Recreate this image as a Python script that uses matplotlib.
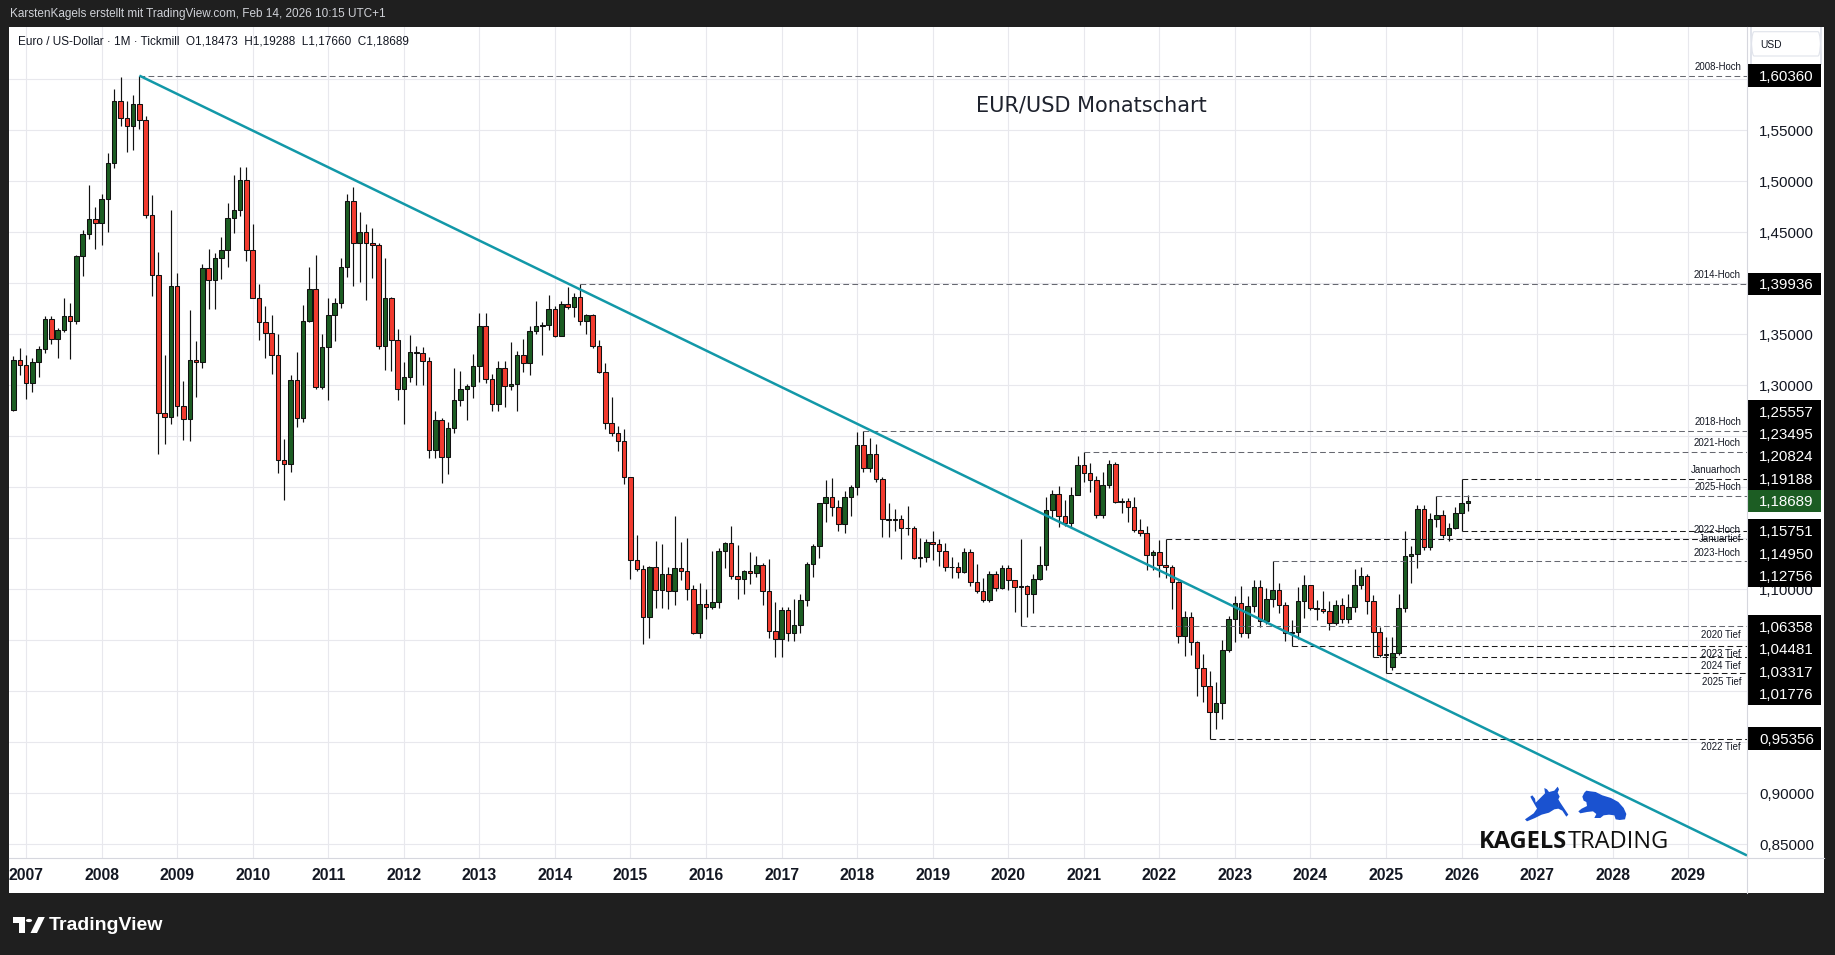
import numpy as np
import pandas as pd
import matplotlib
matplotlib.use("Agg")
import matplotlib.pyplot as plt
from matplotlib.patches import Rectangle, Polygon, Circle, FancyBboxPatch
from matplotlib.lines import Line2D
from matplotlib.transforms import blended_transform_factory

plt.rcParams['font.family'] = ['Liberation Sans', 'DejaVu Sans']

# ------------------------------------------------------------------ data
start_month = "2006-11"

open_ = [
    1.2757, 1.3251,
    1.3197, 1.3020, 1.3225, 1.3355, 1.3650, 1.3455, 1.3540, 1.3680, 1.3630, 1.4265, 1.4480, 1.4635,
    1.4590, 1.4830, 1.5183, 1.5790, 1.5617, 1.5545, 1.5760, 1.5600, 1.4670, 1.4085, 1.2730, 1.2690,
    1.3970, 1.2800, 1.2670, 1.3250, 1.3230, 1.4150, 1.4030, 1.4250, 1.4330, 1.4640, 1.4720, 1.5010,
    1.4330, 1.3860, 1.3625, 1.3510, 1.3300, 1.2270, 1.2230, 1.3050, 1.2680, 1.3630, 1.3940, 1.2980,
    1.3380, 1.3690, 1.3810, 1.4160, 1.4810, 1.4400, 1.4500, 1.4400, 1.4380, 1.3390, 1.3860, 1.3440,
    1.2960, 1.3080, 1.3330, 1.3320, 1.3240, 1.2370, 1.2660, 1.2300, 1.2580, 1.2860, 1.2960, 1.2990,
    1.3190, 1.3580, 1.3060, 1.2820, 1.3170, 1.2990, 1.3010, 1.3300, 1.3220, 1.3530, 1.3580, 1.3590,
    1.3750, 1.3485, 1.3800, 1.3770, 1.3870, 1.3630, 1.3690, 1.3390, 1.3130, 1.2630, 1.2530, 1.2450,
    1.2100, 1.1290, 1.1195, 1.0730, 1.1220, 1.0990, 1.1150, 1.0985, 1.1210, 1.1176, 1.1005, 1.0570,
    1.0860, 1.0830, 1.0873, 1.1380, 1.1453, 1.1131, 1.1105, 1.1175, 1.1157, 1.1240, 1.0980, 1.0590,
    1.0517, 1.0797, 1.0575, 1.0652, 1.0895, 1.1244, 1.1426, 1.1842, 1.1906, 1.1812, 1.1645, 1.1902,
    1.2005, 1.2415, 1.2193, 1.2324, 1.2079, 1.1693, 1.1683, 1.1690, 1.1600, 1.1604, 1.1311, 1.1315,
    1.1467, 1.1446, 1.1371, 1.1217, 1.1215, 1.1168, 1.1370, 1.1075, 1.0985, 1.0899, 1.1152, 1.1017,
    1.1213, 1.1092, 1.1026, 1.1031, 1.0955, 1.1101, 1.1234, 1.1778, 1.1937, 1.1720, 1.1647, 1.1928,
    1.2216, 1.2136, 1.2075, 1.1730, 1.2020, 1.2227, 1.1858, 1.1870, 1.1807, 1.1580, 1.1557, 1.1338,
    1.1370, 1.1235, 1.1218, 1.1067, 1.0545, 1.0733, 1.0481, 1.0225, 1.0054, 0.9801, 0.9883, 1.0405,
    1.0705, 1.0863, 1.0576, 1.0839, 1.1018, 1.0690, 1.0910, 1.0998, 1.0843, 1.0573, 1.0577, 1.0886,
    1.1039, 1.0818, 1.0805, 1.0790, 1.0666, 1.0848, 1.0713, 1.0825, 1.1047, 1.1135, 1.0883, 1.0577,
    1.0354, 1.0235, 1.0380, 1.0815, 1.1330, 1.1347, 1.1787, 1.1416, 1.1686, 1.1733, 1.1535, 1.1598,
    1.1745, 1.18473,
]
high = [
    1.3288, 1.3367,
    1.3298, 1.3270, 1.3385, 1.3682, 1.3680, 1.3560, 1.3852, 1.3805, 1.4281, 1.4527, 1.4967, 1.4750,
    1.4875, 1.5275, 1.5904, 1.6019, 1.5785, 1.5845, 1.6036, 1.5640, 1.4867, 1.4305, 1.3300, 1.4720,
    1.4100, 1.3040, 1.3740, 1.3430, 1.4190, 1.4340, 1.4300, 1.4450, 1.4790, 1.5060, 1.5140, 1.5145,
    1.4580, 1.3990, 1.3780, 1.3690, 1.3500, 1.2470, 1.3100, 1.3330, 1.3790, 1.4160, 1.4280, 1.3500,
    1.3860, 1.3860, 1.4250, 1.4880, 1.4940, 1.4700, 1.4580, 1.4540, 1.4400, 1.4250, 1.3870, 1.3550,
    1.3230, 1.3490, 1.3385, 1.3380, 1.3280, 1.2750, 1.2680, 1.2640, 1.3170, 1.3140, 1.3010, 1.3310,
    1.3710, 1.3710, 1.3110, 1.3240, 1.3240, 1.3420, 1.3340, 1.3450, 1.3580, 1.3830, 1.3620, 1.3890,
    1.3775, 1.3830, 1.3965, 1.3905, 1.39936, 1.3700, 1.3700, 1.3440, 1.3220, 1.2890, 1.2600, 1.2570,
    1.2105, 1.1535, 1.1240, 1.1230, 1.1470, 1.1440, 1.1220, 1.1715, 1.1460, 1.1500, 1.1040, 1.1060,
    1.1000, 1.1380, 1.1410, 1.1460, 1.1620, 1.1430, 1.1190, 1.1370, 1.1330, 1.1260, 1.1300, 1.0880,
    1.0830, 1.0830, 1.0910, 1.0950, 1.1270, 1.1440, 1.1847, 1.2070, 1.2090, 1.1880, 1.1960, 1.2020,
    1.2538, 1.25557, 1.2480, 1.2420, 1.2100, 1.1850, 1.1790, 1.1730, 1.1820, 1.1620, 1.1500, 1.1490,
    1.1570, 1.1490, 1.1450, 1.1320, 1.1270, 1.1410, 1.1400, 1.1250, 1.1110, 1.1180, 1.1180, 1.1240,
    1.1240, 1.1095, 1.1495, 1.1040, 1.1150, 1.1420, 1.1910, 1.1970, 1.2010, 1.1880, 1.2000, 1.2310,
    1.23495, 1.2240, 1.2110, 1.2150, 1.2270, 1.2250, 1.1900, 1.1900, 1.1910, 1.1690, 1.1620, 1.1390,
    1.1480, 1.1495, 1.1235, 1.1080, 1.0790, 1.0780, 1.0490, 1.0370, 1.0200, 1.0090, 1.0500, 1.0740,
    1.0930, 1.1030, 1.0930, 1.1095, 1.1090, 1.1010, 1.12756, 1.1065, 1.0880, 1.0700, 1.1020, 1.1140,
    1.1045, 1.0900, 1.0980, 1.0885, 1.0895, 1.0915, 1.0950, 1.1200, 1.1215, 1.1150, 1.0940, 1.0630,
    1.0530, 1.0530, 1.0955, 1.1573, 1.1420, 1.1830, 1.1830, 1.1745, 1.19188, 1.1780, 1.1655, 1.1808,
    1.20824, 1.19288,
]
low = [
    1.2750, 1.3097,
    1.2866, 1.2930, 1.3080, 1.3320, 1.3410, 1.3265, 1.3520, 1.3260, 1.3600, 1.4070, 1.4430, 1.4340,
    1.4380, 1.4500, 1.5130, 1.5540, 1.5285, 1.5305, 1.5510, 1.4640, 1.3880, 1.2330, 1.2420, 1.2620,
    1.2700, 1.2460, 1.2450, 1.2885, 1.3170, 1.3750, 1.3750, 1.4040, 1.4160, 1.4490, 1.4660, 1.4220,
    1.3855, 1.3440, 1.3270, 1.3110, 1.2140, 1.1876, 1.2150, 1.2590, 1.2640, 1.3620, 1.2965, 1.2960,
    1.2860, 1.3430, 1.3760, 1.4060, 1.3970, 1.4010, 1.3840, 1.4050, 1.3360, 1.3150, 1.3140, 1.2860,
    1.2620, 1.3030, 1.3000, 1.3000, 1.2290, 1.2290, 1.2040, 1.2130, 1.2530, 1.2800, 1.2660, 1.2880,
    1.3030, 1.3020, 1.2750, 1.2750, 1.2790, 1.2950, 1.2750, 1.3130, 1.3100, 1.3500, 1.3300, 1.3540,
    1.3470, 1.3480, 1.3750, 1.3670, 1.3590, 1.3500, 1.3370, 1.3125, 1.2570, 1.2500, 1.2360, 1.2030,
    1.1098, 1.1175, 1.0460, 1.0520, 1.0820, 1.0820, 1.0810, 1.0850, 1.1090, 1.0900, 1.0560, 1.0520,
    1.0710, 1.0810, 1.0820, 1.1210, 1.1100, 1.0910, 1.0950, 1.1050, 1.1120, 1.0850, 1.0520, 1.0340,
    1.0340, 1.0490, 1.0490, 1.0570, 1.0840, 1.1120, 1.1310, 1.1660, 1.1720, 1.1570, 1.1550, 1.1720,
    1.1920, 1.2150, 1.2150, 1.2050, 1.1510, 1.1510, 1.1570, 1.1300, 1.1530, 1.1300, 1.1220, 1.1270,
    1.1290, 1.1230, 1.1180, 1.1110, 1.1110, 1.1160, 1.1030, 1.0960, 1.0880, 1.0880, 1.0980, 1.1000,
    1.0990, 1.0780, 1.06358, 1.0730, 1.0770, 1.1090, 1.1190, 1.1700, 1.1610, 1.1620, 1.1600, 1.1920,
    1.2050, 1.1950, 1.1700, 1.1700, 1.1990, 1.1850, 1.1750, 1.1660, 1.1560, 1.1520, 1.1190, 1.1190,
    1.1120, 1.1110, 1.0810, 1.0470, 1.0350, 1.0360, 0.9950, 0.9900, 0.95356, 0.9630, 0.9730, 1.0390,
    1.0480, 1.0530, 1.0520, 1.0780, 1.0630, 1.0660, 1.0830, 1.0770, 1.0490, 1.04481, 1.0517, 1.0720,
    1.0795, 1.0695, 1.0770, 1.0600, 1.0650, 1.0670, 1.0670, 1.0780, 1.1000, 1.0760, 1.03317, 1.0340,
    1.01776, 1.0212, 1.0360, 1.0778, 1.1065, 1.1210, 1.1390, 1.1390, 1.1615, 1.1500, 1.1470, 1.1590,
    1.15751, 1.17660,
]
close_ = [
    1.3251, 1.3197,
    1.3020, 1.3225, 1.3355, 1.3650, 1.3455, 1.3540, 1.3680, 1.3630, 1.4265, 1.4480, 1.4635, 1.4590,
    1.4830, 1.5183, 1.5790, 1.5617, 1.5545, 1.5760, 1.5600, 1.4670, 1.4085, 1.2730, 1.2690, 1.3970,
    1.2800, 1.2670, 1.3250, 1.3230, 1.4150, 1.4030, 1.4250, 1.4330, 1.4640, 1.4720, 1.5010, 1.4330,
    1.3860, 1.3625, 1.3510, 1.3300, 1.2270, 1.2230, 1.3050, 1.2680, 1.3630, 1.3940, 1.2980, 1.3380,
    1.3690, 1.3810, 1.4160, 1.4810, 1.4400, 1.4500, 1.4400, 1.4380, 1.3390, 1.3860, 1.3440, 1.2960,
    1.3080, 1.3330, 1.3320, 1.3240, 1.2370, 1.2660, 1.2300, 1.2580, 1.2860, 1.2960, 1.2990, 1.3190,
    1.3580, 1.3060, 1.2820, 1.3170, 1.2990, 1.3010, 1.3300, 1.3220, 1.3530, 1.3580, 1.3590, 1.3750,
    1.3485, 1.3800, 1.3770, 1.3870, 1.3630, 1.3690, 1.3390, 1.3130, 1.2630, 1.2530, 1.2450, 1.2100,
    1.1290, 1.1195, 1.0730, 1.1220, 1.0990, 1.1150, 1.0985, 1.1210, 1.1176, 1.1005, 1.0570, 1.0860,
    1.0830, 1.0873, 1.1380, 1.1453, 1.1131, 1.1105, 1.1175, 1.1157, 1.1240, 1.0980, 1.0590, 1.0517,
    1.0797, 1.0575, 1.0652, 1.0895, 1.1244, 1.1426, 1.1842, 1.1906, 1.1812, 1.1645, 1.1902, 1.2005,
    1.2415, 1.2193, 1.2324, 1.2079, 1.1693, 1.1683, 1.1690, 1.1600, 1.1604, 1.1311, 1.1315, 1.1467,
    1.1446, 1.1371, 1.1217, 1.1215, 1.1168, 1.1370, 1.1075, 1.0985, 1.0899, 1.1152, 1.1017, 1.1213,
    1.1092, 1.1026, 1.1031, 1.0955, 1.1101, 1.1234, 1.1778, 1.1937, 1.1720, 1.1647, 1.1928, 1.2216,
    1.2136, 1.2075, 1.1730, 1.2020, 1.2227, 1.1858, 1.1870, 1.1807, 1.1580, 1.1557, 1.1338, 1.1370,
    1.1235, 1.1218, 1.1067, 1.0545, 1.0733, 1.0481, 1.0225, 1.0054, 0.9801, 0.9883, 1.0405, 1.0705,
    1.0863, 1.0576, 1.0839, 1.1018, 1.0690, 1.0910, 1.0998, 1.0843, 1.0573, 1.0577, 1.0886, 1.1039,
    1.0818, 1.0805, 1.0790, 1.0666, 1.0848, 1.0713, 1.0825, 1.1047, 1.1135, 1.0883, 1.0577, 1.0354,
    1.0364, 1.0380, 1.0815, 1.1330, 1.1347, 1.1787, 1.1416, 1.1686, 1.1733, 1.1535, 1.1598, 1.1745,
    1.18473, 1.18689,
]

current_price = 1.18689

level_names = ["2008-Hoch", "2014-Hoch", "2018-Hoch", "2021-Hoch", "Januarhoch", "2025-Hoch",
               "Januartief", "2022-Hoch", "2023-Hoch", "2020 Tief", "2023 Tief", "2024 Tief",
               "2025 Tief", "2022 Tief"]
level_prices = [1.60360, 1.39936, 1.25557, 1.23495, 1.20824, 1.19188,
                1.15751, 1.14950, 1.12756, 1.06358, 1.04481, 1.03317,
                1.01776, 0.95356]
level_start = ["2008-07", "2014-05", "2018-02", "2021-01", "2026-01", "2025-09",
               "2026-01", "2022-02", "2023-07", "2020-03", "2023-10", "2024-11",
               "2025-01", "2022-09"]
level_dark = [False, False, False, False, True, False,
              True, True, False, False, True, True,
              True, True]

trend_dates = ["2008-07", "2029-10"]
trend_prices = [1.6036, 0.8401]

year_ticks = list(range(2007, 2030))
price_ticks = [0.85, 0.90, 0.95, 1.00, 1.05, 1.10, 1.15, 1.20, 1.25, 1.30,
               1.35, 1.40, 1.45, 1.50, 1.55, 1.60]

header_text = "KarstenKagels erstellt mit TradingView.com, Feb 14, 2026 10:15 UTC+1"
legend_text = "Euro / US-Dollar · 1M · Tickmill  O1,18473  H1,19288  L1,17660  C1,18689"
title_text = "EUR/USD Monatschart"
currency_text = "USD"

# ------------------------------------------------------------------ style / layout
W, H = 1835, 955
BG = "#1f1f1f"
TXT = "#131722"
GRID = "#e8e8ed"
GREEN = "#1c5d23"
RED = "#f23b2f"
TEAL = "#1298a8"
BLUE = "#1a52d0"


def fx(px):
    return px / W


def fy(py):
    return 1 - py / H


def month_x(s):
    p = pd.Period(s, freq="M")
    return p.year + (p.month - 1) / 12.0


def fmt(p):
    return f"{p:.5f}".replace(".", ",")


fig = plt.figure(figsize=(W / 100, H / 100), dpi=100, facecolor=BG)

# white chart panel
fig.add_artist(Rectangle((fx(9), fy(893)), (1824 - 9) / W, (893 - 27) / H,
                         transform=fig.transFigure, fc="white", ec="none", zorder=-1))

ax = fig.add_axes([fx(9), fy(858), (1747 - 9) / W, (858 - 27) / H])
ax.set_facecolor("white")
ax.set_xlim(2006.774, 2029.778)
ax.set_ylim(0.8366, 1.6513)
for s in ax.spines.values():
    s.set_visible(False)
ylo, yhi = ax.get_ylim()
ppu = (858 - 27) / (yhi - ylo)          # pixels per price unit
box_h = 22.4 / ppu                      # price-label box height

# price-label box placement (current price anchored, others pushed apart)
placed = [(current_price, current_price, GREEN)]
prev = current_price
for p in sorted([q for q in level_prices if q > current_price]):
    yc = max(p, prev + box_h)
    placed.append((p, yc, "#000000"))
    prev = yc
prev = current_price
for p in sorted([q for q in level_prices if q < current_price], reverse=True):
    yc = min(p, prev - box_h)
    placed.append((p, yc, "#000000"))
    prev = yc


def covered(v):
    half = 5.0 / ppu
    def inside(y):
        return any(abs(y - yc) <= box_h / 2 + 0.6 / ppu for _, yc, _ in placed)
    return inside(v - half) and inside(v + half)


ax.set_xticks(year_ticks)
ax.set_xticklabels([str(y) for y in year_ticks], fontweight="bold")
ax.set_yticks(price_ticks)
ax.set_yticklabels(["" if covered(p) else fmt(p) for p in price_ticks])
ax.yaxis.tick_right()
ax.tick_params(axis="x", length=0, pad=7, labelsize=11.3, labelcolor=TXT)
ax.tick_params(axis="y", length=0, pad=8.6, labelsize=10.9, labelcolor=TXT)
ax.set_axisbelow(True)
ax.grid(True, color=GRID, lw=0.8)

# candles
months = pd.period_range(start_month, periods=len(close_), freq="M")
xs = np.asarray(months.year, dtype=float) + (np.asarray(months.month, dtype=float) - 1) / 12.0
o = np.array(open_)
h = np.array(high)
l = np.array(low)
c = np.array(close_)
up = c >= o
ax.vlines(xs, l, h, color="#111111", lw=0.85, zorder=3)
ax.bar(xs, np.abs(c - o), bottom=np.minimum(o, c), width=0.72 / 12,
       color=np.where(up, GREEN, RED), edgecolor="#111111", linewidth=0.75, zorder=4)

xmax = ax.get_xlim()[1]
blend = blended_transform_factory(ax.transAxes, ax.transData)

# horizontal level lines
for name, p, st, dark in zip(level_names, level_prices, level_start, level_dark):
    ax.plot([month_x(st), xmax], [p, p], ls=(0, (5.5, 3.2)), lw=0.75,
            color="#1a1a1a" if dark else "#666870", zorder=5)
    above = "och" in name
    ax.annotate(name, xy=(1, p), xycoords=blend, xytext=(-4.3, 6.2 if above else -6.2),
                textcoords="offset points", ha="right", va="center",
                fontsize=6.9, color=TXT, zorder=6)

# trend line
tx = [month_x(d) for d in trend_dates]
slope = (trend_prices[1] - trend_prices[0]) / (tx[1] - tx[0])
ax.plot([tx[0], xmax], [trend_prices[0], trend_prices[0] + slope * (xmax - tx[0])],
        color=TEAL, lw=1.8, zorder=6, solid_capstyle="butt")

# ------------------------------------------------------------------ price scale boxes
ax2 = fig.add_axes([fx(1747), fy(858), (1824 - 1747) / W, (858 - 27) / H])
ax2.set_xlim(0, 1)
ax2.set_ylim(ax.get_ylim())
ax2.axis("off")

for p, yc, col in placed:
    ax2.add_patch(Rectangle((1 / 77, yc - box_h / 2), 73 / 77, box_h, fc=col, ec="none", zorder=3))
    ax2.text(12 / 77, yc, fmt(p), color="white", fontsize=10.9, ha="left",
             va="center_baseline", zorder=4)

ax2.add_patch(FancyBboxPatch((4 / 77, (858 - 56) / 831), 70 / 77, 24.3 / 831,
                             boxstyle="round,pad=0,rounding_size=0.04",
                             transform=ax2.transAxes, fc="white", ec="#e0e3eb", lw=0.8))
ax2.text(13 / 77, (858 - 44.7) / 831, currency_text, transform=ax2.transAxes,
         fontsize=7.4, color=TXT, ha="left", va="center")

# separators
fig.add_artist(Line2D([fx(1747), fx(1747)], [fy(27), fy(893)], color="#d6d7de", lw=0.8,
                      transform=fig.transFigure))
fig.add_artist(Line2D([fx(9), fx(1824)], [fy(858), fy(858)], color="#d6d7de", lw=0.8,
                      transform=fig.transFigure))

# ------------------------------------------------------------------ texts
fig.text(fx(9.5), fy(14), header_text, color="#d0d2d8", fontsize=8.5, ha="left", va="center")
fig.text(fx(18.5), fy(41), legend_text, color=TXT, fontsize=8.5, ha="left", va="center")
fig.text(fx(1091), fy(105), title_text, color="#1e222d", fontsize=15,
         family=["DejaVu Sans"], ha="center", va="center")

# KAGELS TRADING logo
fig.text(fx(1479), fy(848), "KAGELS", fontsize=17, fontweight="bold", color="#111111",
         family=["Open Sans", "DejaVu Sans"], ha="left", va="baseline", zorder=7)
fig.text(fx(1568), fy(848), "TRADING", fontsize=17, color="#111111",
         family=["Open Sans", "DejaVu Sans"], ha="left", va="baseline", zorder=7)

bull = [(22, 40), (30, 50), (32, 62), (46, 48), (60, 34), (58, 18), (66, 22), (72, 30), (88, 26),
        (98, 14), (102, 22), (98, 32), (104, 44), (100, 52), (106, 62), (118, 80), (130, 98),
        (124, 104), (112, 86), (100, 80), (88, 82), (72, 92), (50, 98), (30, 108), (6, 118),
        (0, 112), (26, 94), (36, 80), (28, 66), (20, 52), (16, 44)]
bear = [(178, 32), (184, 26), (196, 28), (212, 30), (232, 40), (258, 48), (280, 60), (296, 78),
        (304, 96), (300, 112), (284, 114), (272, 112), (268, 100), (252, 98), (236, 100),
        (226, 108), (208, 108), (214, 96), (204, 88), (186, 90), (166, 94), (160, 88), (170, 80),
        (186, 72), (184, 60), (176, 56), (172, 44)]
for shape in (bull, bear):
    pts = [(fx(1525 + zx / 3), fy(782 + zy / 3)) for zx, zy in shape]
    fig.add_artist(Polygon(pts, closed=True, transform=fig.transFigure, fc=BLUE, ec="none", zorder=7))

# TradingView footer logo
fig.add_artist(Rectangle((fx(12.6), fy(922.5)), 11.9 / W, 5.5 / H, transform=fig.transFigure,
                         fc="white", ec="none", zorder=7))
fig.add_artist(Rectangle((fx(18.5), fy(933)), 6 / W, 16 / H, transform=fig.transFigure,
                         fc="white", ec="none", zorder=7))
fig.add_artist(Polygon([(fx(30.5), fy(933)), (fx(37), fy(933)), (fx(44.8), fy(917)), (fx(38.3), fy(917))],
                       closed=True, transform=fig.transFigure, fc="white", ec="none", zorder=7))
fig.add_artist(Circle((fx(29), fy(920.5)), 3.1 / W, transform=fig.transFigure,
                      fc="white", ec="none", zorder=7))
fig.text(fx(49), fy(925), "TradingView", color="white", fontsize=14, fontweight="bold",
         ha="left", va="center")

fig.savefig("out.png", dpi=100, facecolor=BG)
